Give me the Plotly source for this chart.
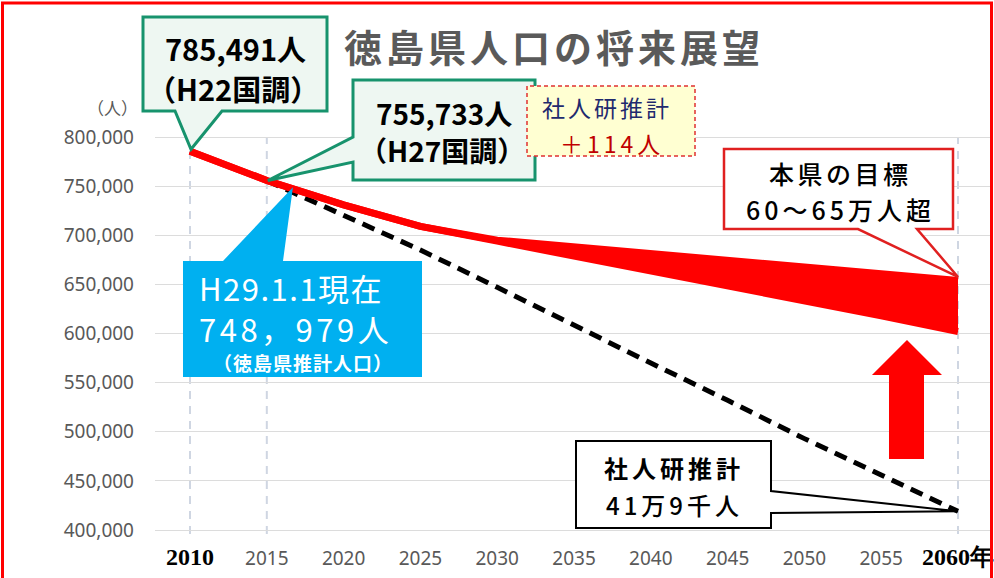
import plotly.graph_objects as go

# ---------------- data ----------------
years = [2010, 2015, 2020, 2025, 2030, 2035, 2040, 2045, 2050, 2055, 2060]
target_upper = [785491, 755733, 731000, 709000, 695000, 688000, 681000, 675000, 668000, 661000, 654000]
target_lower = [785491, 755733, 731000, 709000, 694000, 679000, 664000, 649000, 633000, 618000, 602000]
ipss_years = [2015, 2020, 2025, 2030, 2035, 2040, 2045, 2050, 2055, 2060]
ipss_values = [755619, 721000, 685000, 647000, 608000, 570000, 532000, 493000, 456000, 419000]
y_tick_values = [400000, 450000, 500000, 550000, 600000, 650000, 700000, 750000, 800000]
x_tick_values = [2010, 2015, 2020, 2025, 2030, 2035, 2040, 2045, 2050, 2055, 2060]
x_tick_labels = ["2010", "2015", "2020", "2025", "2030", "2035", "2040", "2045", "2050", "2055", "2060年"]
census_2010 = (2010, 785491)
census_2015 = (2015, 755733)
estimate_2017 = (2016.7, 748979)
dashed_grid_years = [2010, 2015, 2060]

# ---------------- layout geometry ----------------
W, H = 994, 578
L, R, T, B = 155, 4, 100, 35
XR = [2007.721, 2062.083]
YR = [386770, 837660]
PW, PH = W - L - R, H - T - B
JP = "Noto Sans CJK JP"


def px(x):
    return (x - L) / PW


def py(y):
    return (H - B - y) / PH


def dx(year):
    return L + (year - XR[0]) / (XR[1] - XR[0]) * PW


def dy(val):
    return T + (YR[1] - val) / (YR[1] - YR[0]) * PH


def path(points):
    return "M " + " L ".join(f"{px(a):.5f},{py(b):.5f}" for a, b in points) + " Z"


fig = go.Figure()

# 社人研推計 dashed line
fig.add_trace(go.Scatter(x=ipss_years, y=ipss_values, mode="lines",
                         line=dict(color="black", width=5, dash="13px,8px"),
                         hoverinfo="skip"))
# target band
fig.add_trace(go.Scatter(x=years, y=target_upper, mode="lines",
                         line=dict(color="#ff0000", width=7), hoverinfo="skip"))
fig.add_trace(go.Scatter(x=years, y=target_lower, mode="lines",
                         line=dict(color="#ff0000", width=7), fill="tonexty",
                         fillcolor="#ff0000", hoverinfo="skip"))

shapes = []
# dashed vertical grid lines
for yr in dashed_grid_years:
    shapes.append(dict(type="line", xref="x", yref="y", x0=yr, x1=yr, y0=396000, y1=800000,
                       line=dict(color="#cfd6e2", width=2, dash="8px,7px"), layer="below"))

# red outer frame
shapes.append(dict(type="rect", xref="paper", yref="paper",
                   x0=px(2.5), x1=px(991.5), y0=py(640), y1=py(3),
                   line=dict(color="#ff0000", width=3), fillcolor="rgba(0,0,0,0)"))

green_line = "#17936d"
green_fill = "#eef7f2"
# callout 1 (H22)
t1 = (dx(census_2010[0]) + 1, dy(census_2010[1]) - 2)
shapes.append(dict(type="path", xref="paper", yref="paper",
                   path=path([(143, 17), (327, 17), (327, 111), (222, 111), t1, (175, 111), (143, 111)]),
                   line=dict(color=green_line, width=3), fillcolor=green_fill))
# callout 2 (H27)
t2 = (dx(census_2015[0]) + 1, dy(census_2015[1]))
shapes.append(dict(type="path", xref="paper", yref="paper",
                   path=path([(353, 80), (535, 80), (535, 180), (353, 180), (353, 162), t2, (353, 137)]),
                   line=dict(color=green_line, width=3), fillcolor=green_fill))
# yellow dashed box
shapes.append(dict(type="rect", xref="paper", yref="paper",
                   x0=px(527), x1=px(695), y0=py(156), y1=py(86),
                   line=dict(color="#e03030", width=1.5, dash="4px,3px"), fillcolor="#ffffd2"))
# blue callout
t3 = (dx(estimate_2017[0]), dy(estimate_2017[1]))
shapes.append(dict(type="path", xref="paper", yref="paper",
                   path=path([(183, 261), (223, 261), t3, (283, 261), (422, 261), (422, 377), (183, 377)]),
                   line=dict(width=0), fillcolor="#00b0f0"))
# target callout
t4 = (dx(years[-1]), dy(target_upper[-1]) - 3.5)
shapes.append(dict(type="path", xref="paper", yref="paper",
                   path=path([(724, 149), (953, 149), (953, 229), (917, 229), t4, (858, 229), (724, 229)]),
                   line=dict(color="#e02020", width=2.5), fillcolor="white"))
# 社人研 callout
t5 = (dx(ipss_years[-1]), dy(ipss_values[-1]))
shapes.append(dict(type="path", xref="paper", yref="paper",
                   path=path([(576, 441), (771, 441), (771, 491), t5, (771, 513), (771, 528), (576, 528)]),
                   line=dict(color="black", width=2), fillcolor="white"))
# red up arrow
shapes.append(dict(type="path", xref="paper", yref="paper",
                   path=path([(889, 459), (924, 459), (924, 375), (942, 375), (907, 340), (872, 375), (889, 375)]),
                   line=dict(width=0), fillcolor="#ff0000"))


def ann(text, x, y, size, color="black", weight="normal", ls=0, family=JP):
    t = text
    if ls:
        t = f'<span style="letter-spacing:{ls}px">{t}</span>'
    return dict(text=t, xref="paper", yref="paper", x=px(x), y=py(y),
                xanchor="center", yanchor="middle", showarrow=False,
                font=dict(family=family, size=size, color=color, weight=weight))


annotations = [
    ann("徳島県人口の将来展望", 554, 45, 38, color="#5a5a5a", weight="bold", ls=4),
    ann("785,491人", 235, 48, 29, weight="bold"),
    ann("（H22国調）", 233, 88, 29, weight="bold"),
    ann("755,733人", 444, 113, 28, weight="bold"),
    ann("（H27国調）", 442, 150, 28, weight="bold"),
    ann("社人研推計", 607, 107, 23, color="#1f2a6e", ls=3),
    ann("＋114人", 612, 143, 23, color="#c00000", ls=4),
    ann("H29.1.1現在", 291, 287, 31, color="white", ls=1.5),
    ann("748，979人", 295, 328, 31, color="white", ls=3.5),
    ann("（徳島県推計人口）", 303, 362, 19, color="white", weight="bold", ls=1),
    ann("本県の目標", 840, 173, 25, weight=500, ls=3.5),
    ann("60～65万人超", 840, 209, 25, weight=500, ls=4),
    ann("社人研推計", 674, 467, 24, weight="bold", ls=4),
    ann("41万9千人", 674, 504, 24, weight=500, ls=4),
    ann("（人）", 112, 108, 17, color="#595959"),
]

# styled x tick labels
styled_x = []
for i, lab in enumerate(x_tick_labels):
    if i == 0 or i == len(x_tick_labels) - 1:
        styled_x.append(f'<span style="font-family:Liberation Serif;font-size:24px;font-weight:bold;color:#000000">{lab}</span>')
    else:
        styled_x.append(lab)

fig.update_layout(
    width=W, height=H,
    margin=dict(l=L, r=R, t=T, b=B, pad=0, autoexpand=False),
    paper_bgcolor="white", plot_bgcolor="white",
    showlegend=False,
    shapes=shapes,
    annotations=annotations,
    xaxis=dict(range=XR, showgrid=False, zeroline=False, showline=False,
               tickvals=x_tick_values, ticktext=styled_x, ticks="",
               tickfont=dict(family="Noto Sans", size=19, color="#595959"),
               ticklabelstandoff=2, automargin=False, ticklabeloverflow="allow"),
    yaxis=dict(range=YR, showgrid=True, gridcolor="#dcdcdc", gridwidth=1,
               zeroline=False, showline=False, tickvals=y_tick_values,
               tickformat=",d", ticks="", automargin=False,
               tickfont=dict(family="Noto Sans", size=19, color="#595959"),
               ticklabelstandoff=20),
)

fig.write_html("out.html", config={"displayModeBar": False},
               post_script="document.body.style.margin='0px';")
